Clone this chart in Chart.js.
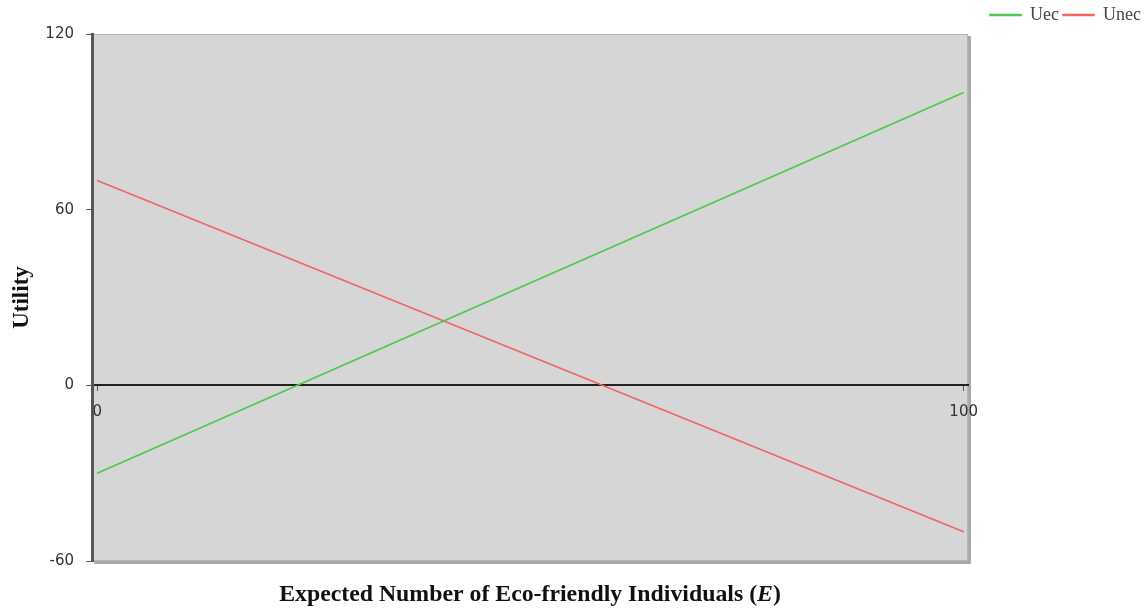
<!DOCTYPE html>
<html>
<head>
<meta charset="utf-8">
<script src="https://cdn.jsdelivr.net/npm/chart.js@4"></script>
<style>
  html, body { margin: 0; padding: 0; background: #fff; }
  #wrap { width: 1147px; height: 613px; }
</style>
</head>
<body>
<div id="wrap"><canvas id="chart"></canvas></div>
<script>
// data
const eValues = [0, 100];
const uecValues = [-30, 100];
const unecValues = [70, -50];
const xTickValues = [0, 100];
const yTickValues = [-60, 0, 60, 120];

const seriesNames = ["Uec", "Unec"];
const seriesColors = ["#4cc84c", "#f06464"];

const toPoints = (xs, ys) => xs.map((x, i) => ({ x: x, y: ys[i] }));

// grey plot box with a soft shadow on the right and bottom
const plotBox = {
  id: "plotBox",
  beforeDraw(chart) {
    const { ctx, chartArea: a } = chart;
    ctx.save();
    ctx.fillStyle = "#d6d6d6";
    ctx.fillRect(a.left, a.top, a.right - a.left, a.bottom - a.top);
    ctx.strokeStyle = "#b4b4b4";
    ctx.lineWidth = 1;
    ctx.strokeRect(a.left + 0.5, a.top + 0.5, a.right - a.left - 1, a.bottom - a.top - 1);
    ctx.fillStyle = "#aaaaaa";
    ctx.fillRect(a.right, a.top + 2, 3, a.bottom - a.top + 1);
    ctx.fillRect(a.left + 2, a.bottom, a.right - a.left + 1, 3);
    ctx.restore();
  }
};

// x axis title with the italic E
const xTitle = {
  id: "xTitle",
  afterDraw(chart) {
    const { ctx, chartArea: a } = chart;
    const partA = "Expected Number of Eco-friendly Individuals (";
    const partB = "E";
    const partC = ")";
    const bold = "bold 23.8px 'Liberation Serif'";
    const boldIt = "italic bold 23.8px 'Liberation Serif'";
    ctx.save();
    ctx.fillStyle = "#111";
    ctx.textBaseline = "middle";
    ctx.font = bold;
    const wA = ctx.measureText(partA).width;
    const wC = ctx.measureText(partC).width;
    ctx.font = boldIt;
    const wB = ctx.measureText(partB).width;
    let x = (a.left + a.right) / 2 - (wA + wB + wC) / 2;
    const y = 595;
    ctx.font = bold;
    ctx.fillText(partA, x, y);
    x += wA;
    ctx.font = boldIt;
    ctx.fillText(partB, x, y);
    x += wB;
    ctx.font = bold;
    ctx.fillText(partC, x, y);
    ctx.restore();
  }
};

new Chart(document.getElementById("chart"), {
  type: "line",
  data: {
    datasets: [
      {
        label: seriesNames[0],
        data: toPoints(eValues, uecValues),
        borderColor: seriesColors[0],
        backgroundColor: seriesColors[0],
        borderWidth: 1.6,
        pointRadius: 0
      },
      {
        label: seriesNames[1],
        data: toPoints(eValues, unecValues),
        borderColor: seriesColors[1],
        backgroundColor: seriesColors[1],
        borderWidth: 1.6,
        pointRadius: 0
      }
    ]
  },
  options: {
    responsive: true,
    maintainAspectRatio: false,
    animation: false,
    layout: { padding: { left: 8, right: 2, top: 2, bottom: 52 } },
    plugins: {
      legend: {
        position: "top",
        align: "end",
        labels: {
          boxWidth: 31,
          boxHeight: 1,
          padding: 4,
          color: "#444",
          font: { family: "'Liberation Serif'", size: 18 }
        }
      },
      tooltip: { enabled: false }
    },
    scales: {
      x: {
        type: "linear",
        position: { y: 0 },
        min: -0.6,
        max: 100.5,
        afterBuildTicks: (scale) => { scale.ticks = xTickValues.map(v => ({ value: v })); },
        grid: { drawOnChartArea: false, drawTicks: true, tickLength: 5, color: "#555" },
        border: { display: true, color: "#222", width: 2 },
        ticks: {
          color: "#333",
          font: { family: "'DejaVu Sans'", size: 15 },
          padding: 13,
          maxRotation: 0
        }
      },
      y: {
        min: -60,
        max: 120,
        afterBuildTicks: (scale) => { scale.ticks = yTickValues.map(v => ({ value: v })); },
        afterFit: (scale) => { scale.width = 84; },
        grid: { drawOnChartArea: false, drawTicks: true, tickLength: 6, color: "#555" },
        border: { display: true, color: "#555", width: 3 },
        ticks: {
          color: "#333",
          font: { family: "'DejaVu Sans'", size: 15 },
          padding: 12
        },
        title: {
          display: true,
          text: "Utility",
          color: "#111",
          font: { family: "'Liberation Serif'", size: 23, weight: "bold" },
          padding: { top: 0, bottom: 9 }
        }
      },
      // empty right side, keeps the plot box off the legend corner
      yRight: {
        position: "right",
        display: true,
        grid: { display: false },
        border: { display: false },
        ticks: { display: false },
        afterFit: (scale) => { scale.width = 177; }
      }
    }
  },
  plugins: [plotBox, xTitle]
});
</script>
</body>
</html>
